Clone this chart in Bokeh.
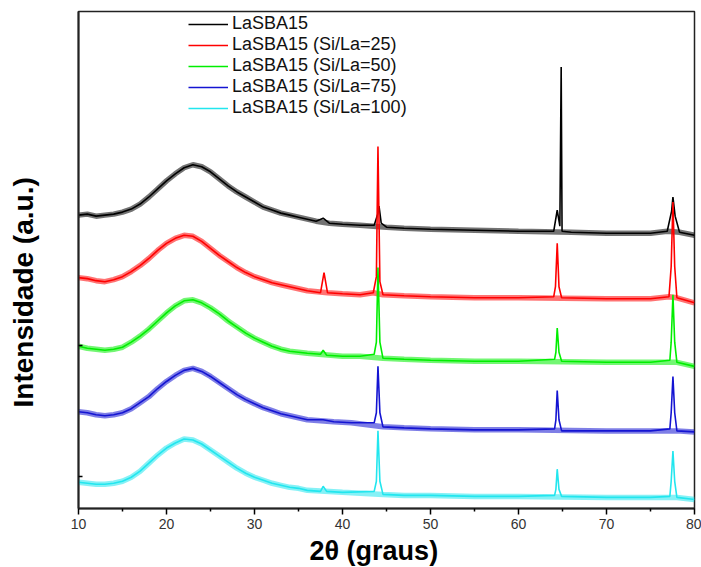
import math
from bokeh.plotting import figure
from bokeh.models import FixedTicker, Legend, LegendItem, Title, Range1d
from bokeh.embed import file_html
from bokeh.resources import INLINE

# ---- data (intensities in arbitrary stacked units) ----
names = ["LaSBA15", "LaSBA15 (Si/La=25)", "LaSBA15 (Si/La=50)",
         "LaSBA15 (Si/La=75)", "LaSBA15 (Si/La=100)"]
colors = ["#000000", "#ff0000", "#00ee00", "#1414d2", "#22e6ee"]

x_black = [10, 11, 12, 13, 14, 15, 16, 17, 18, 19, 20, 21, 22, 23, 24, 25, 26, 27, 28, 29, 30,
           31, 32, 33, 34, 35, 36, 37, 37.8, 38.5, 40, 42, 43.6, 44.0, 44.15, 44.4, 45, 47, 50,
           55, 60, 64.0, 64.4, 64.7, 64.85, 64.95, 66, 70, 75, 76.9, 77.4, 77.55, 77.8, 78.3, 80]
y_black = [291, 292, 290, 291, 292, 294, 297, 302, 309, 317, 325, 332, 338, 341, 339, 334, 327,
           320, 314, 309, 304, 299, 296, 293, 291, 289, 287, 285, 288, 283, 282, 281, 281, 292,
           300, 283, 279, 278, 277, 276, 275, 275, 296, 280, 438, 275, 274, 273, 273, 275, 295,
           309, 290, 274, 271]

x_red = [10, 11, 12, 13, 14, 15, 16, 17, 18, 19, 20, 21, 22, 23, 24, 25, 26, 27, 28, 29, 30,
         31, 32, 33, 34, 35, 36, 37.5, 37.9, 38.3, 40, 42, 43.5, 43.85, 44.03, 44.25, 44.6, 47,
         50, 55, 60, 64.0, 64.2, 64.4, 64.6, 64.9, 70, 75, 77.1, 77.35, 77.55, 77.75, 78.0, 80]
y_red = [229, 228, 226, 225, 227, 230, 235, 241, 248, 256, 263, 268, 271, 270, 265, 258, 251,
         245, 239, 234, 230, 227, 224, 222, 220, 218, 216, 214, 234, 214, 213, 212, 214, 230,
         359, 225, 212, 211, 210, 209, 209, 210, 220, 263, 220, 209, 208, 208, 210, 240, 304,
         240, 209, 204]

x_green = [10, 11, 12, 13, 14, 15, 16, 17, 18, 19, 20, 21, 22, 23, 24, 25, 26, 27, 28, 29, 30,
           31, 32, 33, 34, 35, 36, 37.5, 37.8, 38.2, 40, 42, 43.6, 43.85, 44.03, 44.25, 44.6, 47,
           50, 55, 60, 64.1, 64.25, 64.4, 64.6, 64.9, 70, 75, 77.2, 77.35, 77.55, 77.75, 78.0, 80]
y_green = [161, 159, 158, 157, 158, 160, 165, 171, 178, 186, 194, 201, 206, 207, 204, 199, 193,
           186, 180, 174, 169, 165, 161, 158, 156, 155, 154, 153, 157, 152, 151, 151, 153, 165,
           239, 165, 149, 148, 147, 146, 146, 148, 155, 179, 155, 146, 145, 145, 147, 165, 212,
           165, 145, 141]

x_blue = [10, 11, 12, 13, 14, 15, 16, 17, 18, 19, 20, 21, 22, 23, 24, 25, 26, 27, 28, 29, 30,
          31, 32, 33, 34, 35, 36, 37.8, 39, 41, 43.6, 43.85, 44.03, 44.25, 44.6, 47, 50, 55, 60,
          64.1, 64.25, 64.4, 64.6, 64.9, 70, 75, 77.2, 77.35, 77.55, 77.75, 78.0, 80]
y_blue = [96, 95, 93, 92, 93, 95, 99, 105, 111, 119, 126, 132, 137, 139, 136, 131, 125, 119,
          113, 108, 104, 100, 97, 94, 92, 90, 88, 88, 86, 85, 85, 95, 141, 95, 81, 80, 79, 78,
          78, 79, 88, 117, 88, 77, 77, 77, 79, 95, 131, 95, 77, 76]

x_cyan = [10, 11, 12, 13, 14, 15, 16, 17, 18, 19, 20, 21, 22, 23, 24, 25, 26, 27, 28, 29, 30,
          31, 32, 33, 34, 35, 36, 37.5, 37.8, 38.2, 40, 43.6, 43.85, 44.03, 44.25, 44.6, 47, 50,
          55, 60, 64.1, 64.25, 64.4, 64.6, 64.9, 70, 75, 77.2, 77.35, 77.55, 77.75, 78.0, 80]
y_cyan = [26, 25, 24, 24, 25, 27, 31, 37, 45, 53, 60, 65, 69, 68, 64, 58, 52, 46, 40, 35, 31,
          28, 25, 23, 21, 20, 18, 17, 22, 17, 16, 17, 27, 77, 27, 14, 13, 13, 12, 12, 13, 19,
          39, 19, 12, 11, 11, 12, 27, 57, 27, 11, 9]

peak_positions = [37.8, 44.03, 64.4, 64.85, 77.55]

x_ticks = [10, 20, 30, 40, 50, 60, 70, 80]
x_minor = [15, 25, 35, 45, 55, 65, 75]
y_ticks = [32, 162]

series_x = [x_black, x_red, x_green, x_blue, x_cyan]
series_y = [y_black, y_red, y_green, y_blue, y_cyan]

# ---- figure ----
p = figure(width=701, height=567, output_backend="svg", toolbar_location=None,
           x_range=Range1d(10, 80), y_range=Range1d(0, 493),
           min_border_left=0, min_border_right=7, min_border_top=11, min_border_bottom=0)
p.background_fill_color = "white"
p.border_fill_color = "white"
p.grid.visible = False
p.outline_line_color = "#222222"
p.outline_line_width = 1.5

items = []
for xs, ys, c, n in zip(series_x, series_y, colors, names):
    # wider translucent band for the noisy background (sharp peaks left thin)
    keep = [i for i, xv in enumerate(xs)
            if all(abs(xv - pk) > 0.45 for pk in peak_positions)]
    p.line([xs[i] for i in keep], [ys[i] for i in keep],
           line_color=c, line_width=5.5, line_alpha=0.55)
    r = p.line(xs, ys, line_color=c, line_width=1.6)
    items.append(LegendItem(label=n, renderers=[r]))

legend = Legend(items=items, location=(110, 390), border_line_color=None,
                background_fill_alpha=0, padding=0, margin=0, spacing=0,
                glyph_width=40, glyph_height=20, label_height=16, label_standoff=4,
                label_text_font="Liberation Sans", label_text_font_size="18px",
                label_text_line_height=0.9, label_text_color="#111111")
p.add_layout(legend, "center")

xa = p.xaxis[0]
xa.ticker = FixedTicker(ticks=x_ticks, minor_ticks=x_minor)
xa.axis_line_width = 2
xa.axis_line_color = "#222222"
xa.major_tick_in = 0
xa.major_tick_out = 6
xa.minor_tick_in = 0
xa.minor_tick_out = 3
xa.major_tick_line_width = 1.5
xa.minor_tick_line_width = 1.5
xa.major_label_standoff = 4
xa.major_label_text_font = "Liberation Sans"
xa.major_label_text_font_size = "14px"
xa.major_label_text_color = "#333333"

ya = p.yaxis[0]
ya.ticker = FixedTicker(ticks=y_ticks, minor_ticks=[])
ya.axis_line_width = 2
ya.axis_line_color = "#222222"
ya.major_tick_in = 4
ya.major_tick_out = 0
ya.major_tick_line_width = 1.5
ya.major_label_overrides = {t: "" for t in y_ticks}
ya.major_label_text_font_size = "1px"
ya.major_label_standoff = 0

# spacer between the y axis and its title
spacer = Title(text=" ", align="center", standoff=31,
               text_font_size="2px", text_color="#ffffff")
p.add_layout(spacer, "left")

ytitle = Title(text="Intensidade (a.u.)", align="left", offset=101, standoff=10,
               text_font="Liberation Sans", text_font_style="bold",
               text_font_size="28px", text_color="#000000")
p.add_layout(ytitle, "left")
xtitle = Title(text="2θ (graus)", align="left", offset=231, standoff=4,
               text_font="Liberation Sans", text_font_style="bold",
               text_font_size="27px", text_color="#000000")
p.add_layout(xtitle, "below")

open("out.html", "w").write(file_html(p, INLINE))
